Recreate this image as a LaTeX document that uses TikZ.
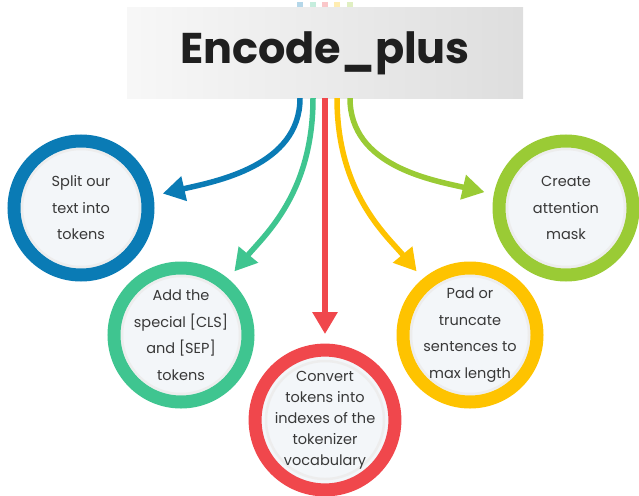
\documentclass[tikz,border=0pt]{standalone}
\usepackage{fontspec}
\setmainfont{Poppins}
\usetikzlibrary{calc,arrows.meta}

\definecolor{cblue}{HTML}{0A7BB5}
\definecolor{cgreen}{HTML}{3FC590}
\definecolor{cred}{HTML}{F0474C}
\definecolor{cyellow}{HTML}{FEC300}
\definecolor{clime}{HTML}{9ACB35}
\definecolor{cfill}{HTML}{F3F6F9}
\definecolor{ctext}{HTML}{383838}

\tikzset{
  stepcircle/.style={circle, draw=#1, line width=13pt, fill=cfill,
    minimum size=134pt, inner sep=0pt, outer sep=16pt,
    align=center, text=ctext, font=\fontsize{14.5}{26.5}\selectfont,
    path picture={\draw[black!7, line width=2.5pt]
      (path picture bounding box.center) circle[radius=59pt];}},
  flow/.style={draw=#1, line width=5.5pt,
    -{Triangle[length=22pt,width=24pt]}},
  stub/.style={draw=#1, line width=5.5pt, opacity=0.3},
}

\begin{document}
\begin{tikzpicture}[x=1pt,y=-1pt]
  \useasboundingbox (0,0) rectangle (639,495);

  % faint ends of the connectors above the title bar
  \foreach \xx/\cc in {300/cblue,313/cgreen,325/cred,337/cyellow,350/clime}
    \draw[stub=\cc] (\xx,2) -- (\xx,9);

  % title bar
  \node[minimum width=396pt, minimum height=90pt, inner sep=0pt,
        left color=black!3, right color=black!13, draw=none]
        (title) at (325,53)
        {\fontsize{43}{43}\selectfont\bfseries\color{black!88}Encode\_plus};

  % step circles
  \node[stepcircle=cblue]   (split)   at (81,208)
    {Split our\\text into\\tokens};
  \node[stepcircle=cgreen]  (special) at (181,335)
    {Add the\\special [CLS]\\and [SEP]\\tokens};
  \node[stepcircle=cred, font=\fontsize{14.5}{21}\selectfont]
    (convert) at (325,420)
    {Convert\\tokens into\\indexes of the\\tokenizer\\vocabulary};
  \node[stepcircle=cyellow] (pad)     at (470,335)
    {Pad or\\truncate\\sentences to\\max length};
  \node[stepcircle=clime]   (mask)    at (566,208)
    {Create\\attention\\mask};

  % connectors from the title bar to each step
  \draw[flow=cblue]
    ($(title.south)+(-25,0)$) .. controls +(0,68) and +(52,-12) .. (split.10);
  \draw[flow=cgreen]
    ($(title.south)+(-12,0)$) .. controls +(0,95) and +(30,-36) .. (special.50);
  \draw[flow=cred]
    (title.south) -- (convert.90);
  \draw[flow=cyellow]
    ($(title.south)+(12,0)$) .. controls +(0,95) and +(-30,-36) .. (pad.130);
  \draw[flow=clime]
    ($(title.south)+(25,0)$) .. controls +(0,68) and +(-52,-12) .. (mask.169);
\end{tikzpicture}
\end{document}
